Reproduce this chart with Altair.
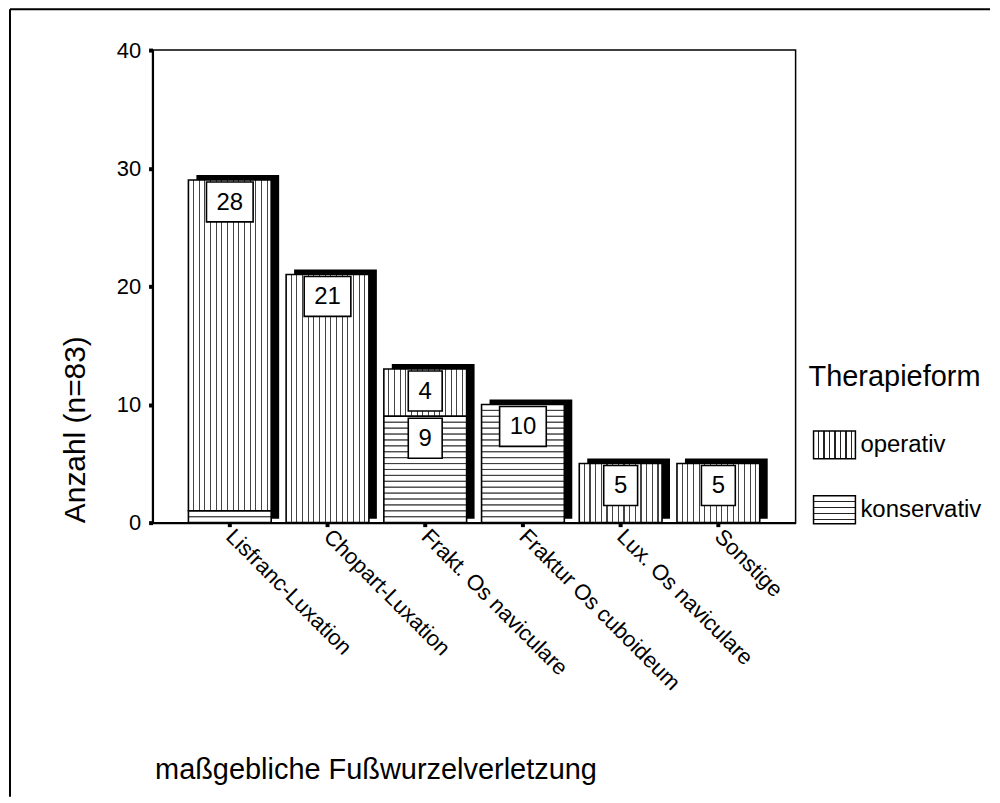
import altair as alt
import numpy as np
import pandas as pd

# ---------------- data ----------------
categories = ["Lisfranc-Luxation", "Chopart-Luxation", "Frakt. Os naviculare",
              "Fraktur Os cuboideum", "Lux. Os naviculare", "Sonstige"]
konservativ = [1, 0, 9, 10, 0, 0]
operativ = [28, 21, 4, 0, 5, 5]
groups = ["operativ", "konservativ"]
y_ticks = [0, 10, 20, 30, 40]

FONT = "Liberation Sans"

# segments (konservativ at the bottom, operativ on top)
rows = []
for c, k, o in zip(categories, konservativ, operativ):
    if k > 0:
        rows.append({"cat": c, "g": "konservativ", "y0": 0, "y1": k, "v": k})
    if o > 0:
        rows.append({"cat": c, "g": "operativ", "y0": k, "y1": k + o, "v": o})
seg = pd.DataFrame(rows)
seg["lab"] = seg["v"].astype(str)
seg["box"] = np.where(seg["v"] >= 10, "M-1.17,-1H1.17V1H-1.17Z", "M-0.85,-1H0.85V1H-0.85Z")
labels = seg[seg["v"] >= 3]

tot = pd.DataFrame({"cat": categories,
                    "y0": 0,
                    "y1": [k + o for k, o in zip(konservativ, operativ)]})

# horizontal hatch lines of the konservativ segments (every half unit)
hrows = []
for c, k in zip(categories, konservativ):
    for p in np.arange(0.5, k, 0.5):
        hrows.append({"cat": c, "y0": float(p), "y1": float(p)})
hatch = pd.DataFrame(hrows)


def stripes(n, width_frac, color, vertical=True):
    sp = 1.0 / (n + 0.6)
    stops = [{"offset": 0, "color": "white"}]
    for i in range(n):
        p = sp * 0.8 + i * sp
        stops += [{"offset": p, "color": "white"}, {"offset": p, "color": color},
                  {"offset": p + width_frac, "color": color},
                  {"offset": p + width_frac, "color": "white"}]
    stops.append({"offset": 1, "color": "white"})
    g = {"gradient": "linear", "stops": stops}
    if vertical:
        g.update({"x1": 0, "x2": 1, "y1": 0, "y2": 0})
    else:
        g.update({"x1": 0, "x2": 0, "y1": 0, "y2": 1})
    return g


vstripe = stripes(14, 0.013, "#444444")

xenc = alt.X("cat:N", sort=categories,
             scale=alt.Scale(domain=categories, paddingInner=0.153, paddingOuter=0.367),
             axis=alt.Axis(title="maßgebliche Fußwurzelverletzung", labelAngle=45,
                           labelAlign="left", labelBaseline="middle", labelPadding=6,
                           labelFontSize=22, labelFont=FONT, labelColor="black",
                           labelLimit=400,
                           domainColor="black", domainWidth=2, tickColor="black",
                           tickSize=4, tickWidth=4,
                           titleFont=FONT, titleFontSize=29, titleFontWeight="normal",
                           titleColor="black", titleAnchor="start", titleAlign="left",
                           titleX=2, titleY=248, titleBaseline="middle"))
yenc = alt.Y("y0:Q", scale=alt.Scale(domain=[0, 40], nice=False),
             axis=alt.Axis(values=y_ticks, grid=False, title="Anzahl (n=83)",
                           labelFontSize=22, labelFont=FONT, labelColor="black",
                           labelPadding=8,
                           domainColor="black", domainWidth=2, tickColor="black",
                           tickSize=4, tickWidth=4,
                           titleFont=FONT, titleFontSize=30, titleFontWeight="normal",
                           titleColor="black", titleAngle=-90, titleAlign="left",
                           titleBaseline="middle", titleX=-77, titleY=474))

shadow = alt.Chart(tot).mark_bar(color="black", xOffset=8, yOffset=-4,
                                 y2Offset=-5).encode(
    x=xenc, y=yenc, y2="y1:Q")
op_fill = alt.Chart(seg[seg["g"] == "operativ"]).mark_bar(fill=vstripe).encode(
    x=xenc, y=yenc, y2="y1:Q")
ko_fill = alt.Chart(seg[seg["g"] == "konservativ"]).mark_bar(fill="white").encode(
    x=xenc, y=yenc, y2="y1:Q")
hlines = alt.Chart(hatch).mark_bar(filled=False, stroke="#3a3a3a", strokeWidth=0.9).encode(
    x=xenc, y=yenc, y2="y1:Q")
outline = alt.Chart(seg).mark_bar(filled=False, stroke="black", strokeWidth=1.6).encode(
    x=xenc, y=yenc, y2="y1:Q")
boxes = alt.Chart(labels).mark_point(filled=True, fill="white", stroke="black",
                                     strokeWidth=1.6, size=1600, opacity=1,
                                     yOffset=22).encode(
    x=xenc, y=alt.Y("y1:Q"), shape=alt.Shape("box:N", scale=None))
texts = alt.Chart(labels).mark_text(font=FONT, fontSize=24, color="black",
                                    baseline="middle", yOffset=23).encode(
    x=xenc, y=alt.Y("y1:Q"), text="lab:N")

# outer frame of the figure (top and left edges)
frame_top = alt.Chart(tot.head(1)).mark_rule(color="black", strokeWidth=2).encode(
    x=alt.value(-143), x2=alt.value(840), y=alt.value(-41))
frame_left = alt.Chart(tot.head(1)).mark_rule(color="black", strokeWidth=2).encode(
    x=alt.value(-143), y=alt.value(-41), y2=alt.value(749))

main = alt.layer(shadow, op_fill, ko_fill, hlines, outline, boxes, texts,
                 frame_top, frame_left).properties(
    width=645, height=474,
    view=alt.ViewBackground(stroke="black", strokeWidth=1.5))

# ---------------- legend panel ----------------
leg = pd.DataFrame({"g": groups})
ly = alt.Y("g:N", scale=alt.Scale(domain=groups, range=[396, 461], padding=0), axis=None)
sym_shape = "M-1.5,-1H1.5V1H-1.5Z"
sym_op = alt.Chart(leg[leg["g"] == "operativ"]).mark_point(
    shape=sym_shape, size=784, filled=True, fill=stripes(7, 0.035, "#222"),
    stroke="black", strokeWidth=1.5, opacity=1).encode(x=alt.value(29), y=ly)
sym_ko = alt.Chart(leg[leg["g"] == "konservativ"]).mark_point(
    shape=sym_shape, size=784, filled=True, fill=stripes(4, 0.05, "#222", vertical=False),
    stroke="black", strokeWidth=1.5, opacity=1).encode(x=alt.value(29), y=ly)
leg_lab = alt.Chart(leg).mark_text(font=FONT, fontSize=24, align="left",
                                   baseline="middle", color="black").encode(
    x=alt.value(55), y=ly, text="g:N")
leg_title = alt.Chart(pd.DataFrame({"t": ["Therapieform"]})).mark_text(
    font=FONT, fontSize=29, align="left", baseline="middle", color="black").encode(
    x=alt.value(3), y=alt.value(328), text="t:N")
legend = alt.layer(leg_title, sym_op, sym_ko, leg_lab).properties(
    width=180, height=474, view=alt.ViewBackground(stroke=None))

chart = alt.hconcat(main, legend, spacing=10, bounds="flush").properties(
    padding={"left": 0, "top": -2, "right": 0, "bottom": 0}
).configure_view(stroke=None)

chart.save("out.html", embed_options={"renderer": "svg", "actions": False})
